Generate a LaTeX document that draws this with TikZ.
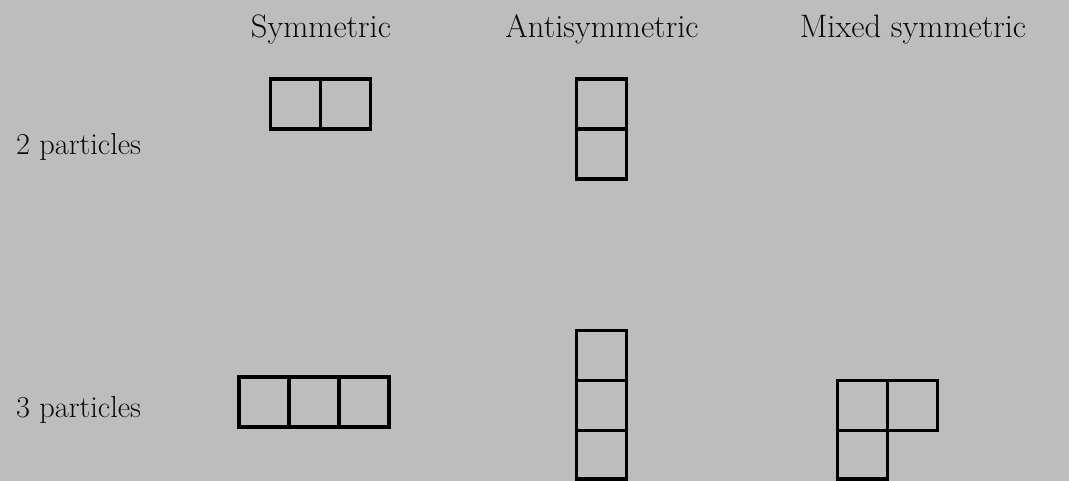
\documentclass[tikz,border=0pt]{standalone}
\usepackage{amsmath}
\usepackage{tikz}
\definecolor{paper}{RGB}{189,189,189}
\definecolor{ink}{RGB}{10,10,10}
\tikzset{
  box/.style={line width=2.1pt, draw=black},
  head/.style={anchor=base, text=ink, font=\fontsize{18.5}{22}\selectfont},
  row/.style={anchor=base west, text=ink, font=\fontsize{17.3}{21}\selectfont}
}
\begin{document}
\begin{tikzpicture}
    % Hintergrund
    \fill[paper] (0,0) rectangle (21.38,-9.62);
    \useasboundingbox (0,0) rectangle (21.38,-9.62);
    % Spaltenkoepfe
    \node[head] (sym) at (6.42,-0.76) {Symmetric};
    \node[head] (anti) at (12.04,-0.76) {Antisymmetric};
    \node[head] (mixed) at (18.26,-0.76) {Mixed symmetric};
    % Zeilen
    \node[row] (two) at (0.2,-3.1) {2 particles};
    \node[row] (three) at (0.2,-8.36) {3 particles};
    % 2 Teilchen, symmetrisch
    \draw[box] (5.41,-1.58) rectangle (7.41,-2.58);
    \draw[box] (6.41,-1.58) -- (6.41,-2.58);
    % 2 Teilchen, antisymmetrisch
    \draw[box] (11.53,-1.58) rectangle (12.53,-3.58);
    \draw[box] (11.53,-2.58) -- (12.53,-2.58);
    % 3 Teilchen, symmetrisch
    \draw[box] (4.78,-7.54) rectangle (7.78,-8.54);
    \draw[box] (5.78,-7.54) -- (5.78,-8.54);
    \draw[box] (6.78,-7.54) -- (6.78,-8.54);
    % 3 Teilchen, antisymmetrisch
    \draw[box] (11.53,-6.61) rectangle (12.53,-9.58);
    \draw[box] (11.53,-7.61) -- (12.53,-7.61);
    \draw[box] (11.53,-8.61) -- (12.53,-8.61);
    % 3 Teilchen, gemischt
    \draw[box] (16.75,-7.61) rectangle (18.75,-8.61);
    \draw[box] (17.75,-7.61) -- (17.75,-8.61);
    \draw[box] (16.75,-8.61) rectangle (17.75,-9.58);
\end{tikzpicture}
\end{document}
